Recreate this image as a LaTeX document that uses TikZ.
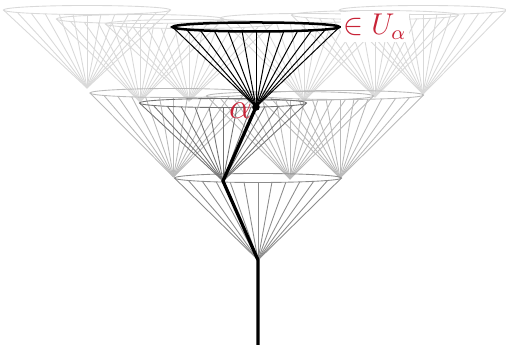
\documentclass[tikz,border=0pt]{standalone}
\usepackage{amsmath}
\usepackage{amssymb}
\usepackage{tikz}
\usetikzlibrary{calc}

\definecolor{alphared}{RGB}{200,35,55}

% cone: apex, height of the ring above it, style
\newcommand{\drawcone}[3]{%
  \foreach \k [evaluate=\k as \ang using {-acos(\k/6)}] in {-6,...,6}
    \draw[#3] (#1) -- ($(#1)+(0,#2)+(\ang:8.35 and 0.45)$);
  \draw[#3] ($(#1)+(0,#2)$) ellipse [x radius=8.35, y radius=0.45];
}

\begin{document}
\begin{tikzpicture}[x=4pt, y=4pt,
    faint/.style={draw=black!15, line width=0.35pt},
    light/.style={draw=black!27, line width=0.35pt},
    mid/.style={draw=black!45, line width=0.35pt},
    dark/.style={draw=black!55, line width=0.35pt},
    chosen/.style={draw=black, line width=0.4pt},
    branch/.style={draw=black, line width=1.3pt}]
    \useasboundingbox (-25.8,-8.5) rectangle (24.8,26.0);
    % Points of the tree
    \coordinate (root) at (0,-8.5);
    \coordinate (a0) at (0,0);
    \coordinate (b1) at (-8.45,8.3);
    \coordinate (b2) at (-3.5,7.9);
    \coordinate (b3) at (3.2,8.1);
    \coordinate (b4) at (8.2,8.2);
    \coordinate (c1) at (-17.1,17.2);
    \coordinate (c2) at (-11.8,15.8);
    \coordinate (c3) at (-6.9,15.9);
    \coordinate (alpha) at (-0.2,15.3);
    \coordinate (c5) at (4.6,15.9);
    \coordinate (c6) at (11.7,16.3);
    \coordinate (c7) at (16.5,16.6);
    % Top level, faded
    \drawcone{c1}{7.8}{faint}
    \drawcone{c2}{8.3}{faint}
    \drawcone{c3}{7.7}{faint}
    \drawcone{c5}{8.3}{faint}
    \drawcone{c6}{8.2}{faint}
    \drawcone{c7}{8.4}{faint}
    % Middle level
    \drawcone{b1}{8.4}{light}
    \drawcone{b3}{8.3}{light}
    \drawcone{b4}{8.3}{light}
    % Bottom cone and the cone below alpha
    \drawcone{a0}{8.2}{mid}
    \drawcone{b2}{7.8}{dark}
    % Cone of alpha
    \drawcone{alpha}{8.0}{chosen}
    \draw[black, line width=1pt] ($(alpha)+(0,8.0)$) ellipse [x radius=8.35, y radius=0.45];
    % Branch up to alpha
    \draw[branch] (root) -- (a0) -- (b2) -- (alpha);
    \fill (alpha) circle (0.38);
    % Labels
    \node[alphared, left, inner sep=1.5pt, yshift=-1.5pt, font=\Large] at (alpha) {$\alpha$};
    \node[alphared, right, fill=white, inner sep=1pt, font=\large] at ($(alpha)+(8.4,8.0)$) {$\in U_\alpha$};
\end{tikzpicture}
\end{document}
